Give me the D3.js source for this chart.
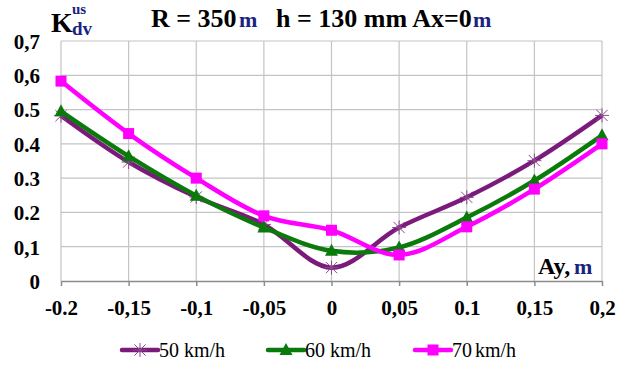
<!DOCTYPE html>
<html>
<head>
<meta charset="utf-8">
<script src="https://cdn.jsdelivr.net/npm/d3@7"></script>
<style>
  body { margin: 0; background: #fff; }
</style>
</head>
<body>
<div class="chart"></div>
<script>
// data
const ay = [-0.2, -0.15, -0.1, -0.05, 0, 0.05, 0.1, 0.15, 0.2];
const k50 = [0.482, 0.347, 0.245, 0.165, 0.039, 0.156, 0.244, 0.351, 0.483];
const k60 = [0.495, 0.364, 0.249, 0.156, 0.088, 0.098, 0.185, 0.293, 0.425];
const k70 = [0.583, 0.430, 0.300, 0.190, 0.148, 0.076, 0.158, 0.268, 0.400];
const seriesNames = ['50 km/h', '60 km/h', '70km/h'];
const xTickLabels = ['-0.2', '-0,15', '-0,1', '-0,05', '0', '0,05', '0.1', '0,15', '0,2'];
const yTicks = [0, 0.1, 0.2, 0.3, 0.4, 0.5, 0.6, 0.7];
const yTickLabels = ['0', '0,1', '0.2', '0.3', '0.4', '0.5', '0,6', '0,7'];

const width = 621, height = 368;
const margin = { top: 41, right: 19, bottom: 87, left: 61 };
const navy = '#1a237e';
const serif = '"Liberation Serif"';

const svg = d3.select('.chart').append('svg')
  .attr('width', width).attr('height', height);

const x = d3.scaleLinear().domain([-0.2, 0.2]).range([margin.left, width - margin.right]);
const y = d3.scaleLinear().domain([0, 0.7]).range([height - margin.bottom, margin.top]);

// grid
svg.append('g').selectAll('line').data(yTicks.slice(1)).enter().append('line')
  .attr('x1', x(-0.2)).attr('x2', x(0.2))
  .attr('y1', d => y(d)).attr('y2', d => y(d))
  .attr('stroke', '#c4c4c4').attr('stroke-width', 1.2);
svg.append('g').selectAll('line').data(ay).enter().append('line')
  .attr('x1', d => x(d)).attr('x2', d => x(d))
  .attr('y1', y(0)).attr('y2', y(0.7))
  .attr('stroke', '#c4c4c4').attr('stroke-width', 1.2);

// x axis
const xAxis = d3.axisBottom(x).tickValues(ay).tickSizeInner(5).tickSizeOuter(0)
  .tickFormat((d, i) => xTickLabels[i]);
const xg = svg.append('g').attr('transform', `translate(0,${y(0)})`).call(xAxis);
xg.select('.domain').attr('stroke', '#8c8c8c').attr('stroke-width', 1.5);
xg.selectAll('.tick line').attr('stroke', '#8c8c8c').attr('stroke-width', 1.5);
xg.selectAll('text').attr('dy', '0').attr('y', 34)
  .style('font-family', serif).style('font-size', '21px')
  .style('font-weight', 'bold').attr('fill', '#000');

// y axis
const yAxis = d3.axisLeft(y).tickValues(yTicks).tickSize(0)
  .tickFormat((d, i) => yTickLabels[i]);
const yg = svg.append('g').attr('transform', `translate(${margin.left},0)`).call(yAxis);
yg.select('.domain').remove();
yg.selectAll('text').attr('x', -21).attr('dy', '0.35em')
  .style('font-family', serif).style('font-size', '21px')
  .style('font-weight', 'bold').attr('fill', '#000');

// series
const series = [
  { vals: k50, color: '#7b1a7b', marker: 'star' },
  { vals: k60, color: '#0a7a0a', marker: 'tri' },
  { vals: k70, color: '#ff00ff', marker: 'square' }
];

const line = d3.line()
  .x((d, i) => x(ay[i]))
  .y(d => y(d))
  .curve(d3.curveCardinal.tension(0));

function drawMarker(g, type, color, cx, cy) {
  if (type === 'star') {
    const r = 7;
    [[-r, 0, r, 0], [0, -r, 0, r], [-r * 0.8, -r * 0.8, r * 0.8, r * 0.8], [-r * 0.8, r * 0.8, r * 0.8, -r * 0.8]]
      .forEach(s => g.append('line')
        .attr('x1', cx + s[0]).attr('y1', cy + s[1]).attr('x2', cx + s[2]).attr('y2', cy + s[3])
        .attr('stroke', '#8a4a8a').attr('stroke-width', 1));
  } else if (type === 'tri') {
    g.append('path')
      .attr('d', `M${cx},${cy - 7}L${cx + 6.5},${cy + 5}L${cx - 6.5},${cy + 5}Z`)
      .attr('fill', color);
  } else {
    g.append('rect').attr('x', cx - 5.5).attr('y', cy - 5.5)
      .attr('width', 11).attr('height', 11).attr('fill', color);
  }
}

series.forEach(s => {
  const g = svg.append('g');
  g.append('path').datum(s.vals).attr('d', line)
    .attr('fill', 'none').attr('stroke', s.color).attr('stroke-width', 4.5);
  s.vals.forEach((v, i) => drawMarker(g, s.marker, s.color, x(ay[i]), y(v)));
});

// titles
const title = svg.append('text').attr('y', 27)
  .style('font-family', serif).style('font-weight', 'bold').style('font-size', '26px');
title.append('tspan').attr('x', 151).text('R = 350');
title.append('tspan').attr('x', 239).text('m').attr('fill', navy).style('font-size', '22px');
title.append('tspan').attr('x', 276).text('h = 130 mm Ax=0');
title.append('tspan').attr('x', 473).text('m').attr('fill', navy).style('font-size', '22px');

const ylab = svg.append('g');
ylab.append('text').attr('x', 51).attr('y', 32)
  .style('font-family', serif).style('font-weight', 'bold').style('font-size', '28px').text('K');
ylab.append('text').attr('x', 72).attr('y', 14)
  .style('font-family', serif).style('font-weight', 'bold').style('font-size', '15px')
  .attr('fill', navy).text('us');
ylab.append('text').attr('x', 72).attr('y', 35)
  .style('font-family', serif).style('font-weight', 'bold').style('font-size', '19px')
  .attr('fill', navy).text('dv');

const xlab = svg.append('text').attr('y', 274)
  .style('font-family', serif).style('font-weight', 'bold').style('font-size', '24px');
xlab.append('tspan').attr('x', 538).text('Ay,');
xlab.append('tspan').attr('x', 574).text('m').attr('fill', navy).style('font-size', '22px');

// legend
const legX = [122, 268, 415];
seriesNames.forEach((name, i) => {
  const s = series[i];
  const g = svg.append('g');
  g.append('line').attr('x1', legX[i]).attr('x2', legX[i] + 36)
    .attr('y1', 350).attr('y2', 350)
    .attr('stroke', s.color).attr('stroke-width', 4.5).attr('stroke-linecap', 'round');
  drawMarker(g, s.marker, s.color, legX[i] + 18, 350);
  const t = g.append('text').attr('x', legX[i] + 37).attr('y', 357)
    .style('font-family', serif).style('font-size', '20px');
  if (name === '70km/h') {
    t.append('tspan').text('70');
    t.append('tspan').attr('dx', 3).text('km/h');
  } else {
    t.text(name);
  }
});
</script>
</body>
</html>
